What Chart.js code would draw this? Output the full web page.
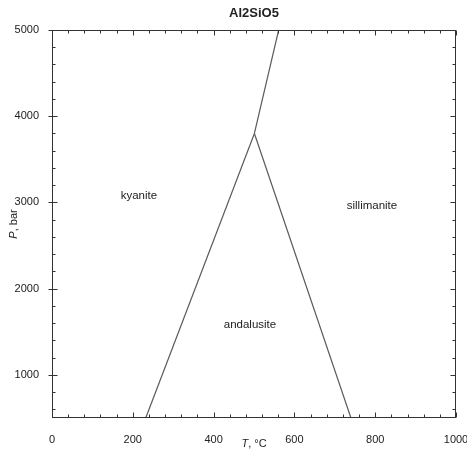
<!DOCTYPE html>
<html>
<head>
<meta charset="utf-8">
<script src="https://cdn.jsdelivr.net/npm/chart.js@4"></script>
<style>
  html, body { margin: 0; padding: 0; background: #fff; }
  #wrap { width: 467px; height: 454px; }
</style>
</head>
<body>
<div id="wrap"><canvas id="c" width="467" height="454"></canvas></div>
<script>
// Phase boundaries of Al2SiO5 (T in °C, P in bar)
const kyAndT = [232, 501];
const kyAndP = [500, 3800];
const andSilT = [501, 740];
const andSilP = [3800, 500];
const kySilT = [501, 561];
const kySilP = [3800, 5000];

// Stability-field labels
const phaseNames = ['kyanite', 'andalusite', 'sillimanite'];
const phaseT = [215, 490, 792];
const phaseP = [3074, 1586, 2958];

// Axis ticks
const xTicks = [0, 200, 400, 600, 800, 1000];
const yTicks = [1000, 2000, 3000, 4000, 5000];
const xMinorStep = 40;
const yMinorStep = 200;

const FONT = '"Liberation Sans", Arial, Helvetica, sans-serif';
const LINE = '#5a5a5a';
const AXIS = '#333';
const TEXT = '#222';

function toPoints(ts, ps) { return ts.map((t, i) => ({ x: t, y: ps[i] })); }

function boundary(ts, ps) {
  return {
    data: toPoints(ts, ps),
    showLine: true,
    borderColor: LINE,
    borderWidth: 1.2,
    pointRadius: 0,
    fill: false,
    tension: 0
  };
}

// Frame, inward tick marks, title, axis titles and field labels
const decorations = {
  id: 'decorations',
  afterDraw(chart) {
    const { ctx, chartArea: a, scales: { x, y } } = chart;
    ctx.save();
    ctx.strokeStyle = AXIS;
    ctx.lineWidth = 1;
    const L = Math.round(a.left) + 0.5, R = Math.round(a.right) - 0.5;
    const T = Math.round(a.top) + 0.5, B = Math.round(a.bottom) - 0.5;
    ctx.strokeRect(L, T, R - L, B - T);

    ctx.beginPath();
    for (let v = x.min; v <= x.max + 1e-9; v += xMinorStep) {
      const major = xTicks.includes(v);
      const len = major ? 5 : 3;
      const px = Math.round(x.getPixelForValue(v)) + 0.5;
      ctx.moveTo(px, B); ctx.lineTo(px, B - len);
      ctx.moveTo(px, T); ctx.lineTo(px, T + len);
    }
    for (let v = 600; v <= y.max + 1e-9; v += yMinorStep) {
      const major = yTicks.includes(v);
      const len = major ? 5 : 3;
      const py = Math.round(y.getPixelForValue(v)) + 0.5;
      ctx.moveTo(L - (major ? 4 : 0), py); ctx.lineTo(L + len, py);
      ctx.moveTo(R, py); ctx.lineTo(R - len, py);
    }
    ctx.stroke();

    ctx.fillStyle = TEXT;
    ctx.textBaseline = 'middle';

    // Title
    ctx.font = 'bold 13px ' + FONT;
    ctx.textAlign = 'center';
    ctx.fillText('Al2SiO5', (a.left + a.right) / 2, 13);

    // Field labels
    ctx.font = '11.5px ' + FONT;
    phaseNames.forEach((name, i) => {
      ctx.fillText(name, x.getPixelForValue(phaseT[i]), y.getPixelForValue(phaseP[i]));
    });

    // Axis titles with italic symbol
    function mixed(sym, rest, cx, cy) {
      ctx.font = 'italic 11px ' + FONT;
      const w1 = ctx.measureText(sym).width;
      ctx.font = '11px ' + FONT;
      const w2 = ctx.measureText(rest).width;
      const x0 = cx - (w1 + w2) / 2;
      ctx.textAlign = 'left';
      ctx.font = 'italic 11px ' + FONT;
      ctx.fillText(sym, x0, cy);
      ctx.font = '11px ' + FONT;
      ctx.fillText(rest, x0 + w1, cy);
    }
    mixed('T', ', °C', (a.left + a.right) / 2, 444);
    ctx.save();
    ctx.translate(14, (a.top + a.bottom) / 2);
    ctx.rotate(-Math.PI / 2);
    mixed('P', ', bar', 0, 0);
    ctx.restore();
    ctx.restore();
  }
};

const plainNumber = v => String(v);

new Chart(document.getElementById('c'), {
  type: 'scatter',
  data: {
    datasets: [
      boundary(kyAndT, kyAndP),
      boundary(andSilT, andSilP),
      boundary(kySilT, kySilP)
    ]
  },
  options: {
    responsive: false,
    devicePixelRatio: 1,
    animation: false,
    layout: { padding: { top: 30, right: 11, left: 0, bottom: 0 } },
    plugins: { legend: { display: false }, title: { display: false }, tooltip: { enabled: false } },
    scales: {
      x: {
        type: 'linear', min: 0, max: 1000,
        grid: { display: false }, border: { display: false },
        afterBuildTicks: s => { s.ticks = xTicks.map(v => ({ value: v })); },
        afterFit: s => { s.height = 36; s.paddingLeft = 0; s.paddingRight = 0; },
        ticks: { color: TEXT, font: { family: FONT, size: 11 }, padding: 7, maxRotation: 0, callback: plainNumber }
      },
      y: {
        type: 'linear', min: 500, max: 5000,
        grid: { display: false }, border: { display: false },
        afterBuildTicks: s => { s.ticks = yTicks.map(v => ({ value: v })); },
        afterFit: s => { s.width = 52; s.paddingTop = 0; s.paddingBottom = 0; },
        ticks: { color: TEXT, font: { family: FONT, size: 11 }, padding: 5, callback: plainNumber }
      }
    }
  },
  plugins: [decorations]
});
</script>
</body>
</html>
